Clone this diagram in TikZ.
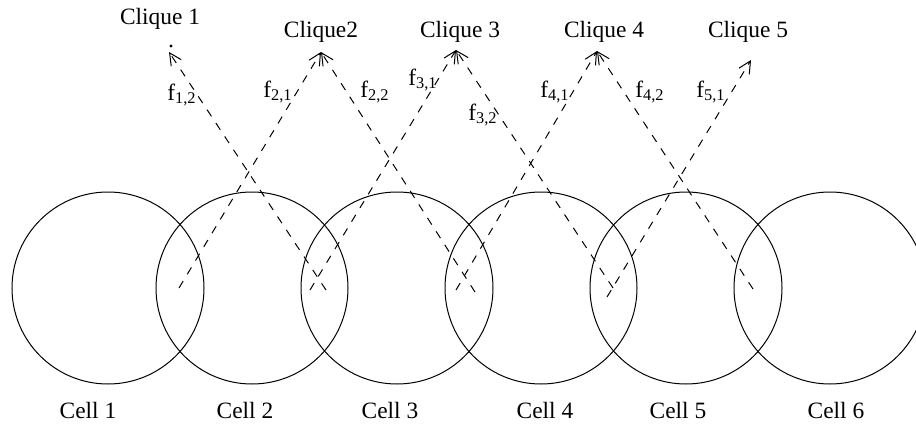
\documentclass[tikz,border=0pt]{standalone}
\usepackage{fontspec}
\setmainfont{Liberation Serif}
\usetikzlibrary{arrows.meta}

\tikzset{
  cell/.style={circle,draw,line width=0.5pt,minimum size=96pt,inner sep=0pt},
  txt/.style={font=\fontsize{11.7}{13}\selectfont,inner sep=0pt,anchor=base},
  flabel/.style={txt,anchor=base west},
  link/.style={line width=0.5pt,dash pattern=on 4pt off 4pt,-{Straight Barb[length=6pt,width=6pt]}}
}

\begin{document}
\begin{tikzpicture}[x=0.5pt,y=-0.5pt]
\useasboundingbox (0,0) rectangle (916,428);

%cells
\node[cell] (c1) at (108,288) {};
\node[cell] (c2) at (252,288) {};
\node[cell] (c3) at (397,288) {};
\node[cell] (c4) at (541,288) {};
\node[cell] (c5) at (686,288) {};
\node[cell] (c6) at (830,288) {};

%cell names
\node[txt] (n1) at (88,418) {Cell 1};
\node[txt] (n2) at (245,418) {Cell 2};
\node[txt] (n3) at (390,418) {Cell 3};
\node[txt] (n4) at (545,418) {Cell 4};
\node[txt] (n5) at (678,418) {Cell 5};
\node[txt] (n6) at (836,418) {Cell 6};

%cliques
\node[txt] (q1) at (160,25) {Clique 1};
\node[txt] (q2) at (321,37) {Clique2};
\node[txt] (q3) at (460,37) {Clique 3};
\node[txt] (q4) at (604,37) {Clique 4};
\node[txt] (q5) at (748,37) {Clique 5};
\fill (171,46) circle (0.8pt);

%arrow tips
\coordinate (t1) at (169,52);
\coordinate (t2) at (321,52);
\coordinate (t3) at (456,50);
\coordinate (t4) at (597,51);
\coordinate (t5) at (751,60);

%arrow feet
\coordinate (s12) at (326,290);
\coordinate (s21) at (179,288);
\coordinate (s22) at (475,292);
\coordinate (s31) at (310,290);
\coordinate (s32) at (613,288);
\coordinate (s41) at (456,290);
\coordinate (s42) at (753,289);
\coordinate (s51) at (607,297);

%dashed arrows
\draw[link] (s12) -- (t1);
\draw[link] (s21) -- (t2);
\draw[link] (s22) -- (t2);
\draw[link] (s31) -- (t3);
\draw[link] (s32) -- (t3);
\draw[link] (s41) -- (t4);
\draw[link] (s42) -- (t4);
\draw[link] (s51) -- (t5);

%arrow names
\node[flabel] (f12) at (167,100) {f\textsubscript{1,2}};
\node[flabel] (f21) at (263,97) {f\textsubscript{2,1}};
\node[flabel] (f22) at (360,97) {f\textsubscript{2,2}};
\node[flabel] (f31) at (408,85) {f\textsubscript{3,1}};
\node[flabel] (f32) at (468,120) {f\textsubscript{3,2}};
\node[flabel] (f41) at (540,97) {f\textsubscript{4,1}};
\node[flabel] (f42) at (635,97) {f\textsubscript{4,2}};
\node[flabel] (f51) at (696,97) {f\textsubscript{5,1}};

\end{tikzpicture}
\end{document}
